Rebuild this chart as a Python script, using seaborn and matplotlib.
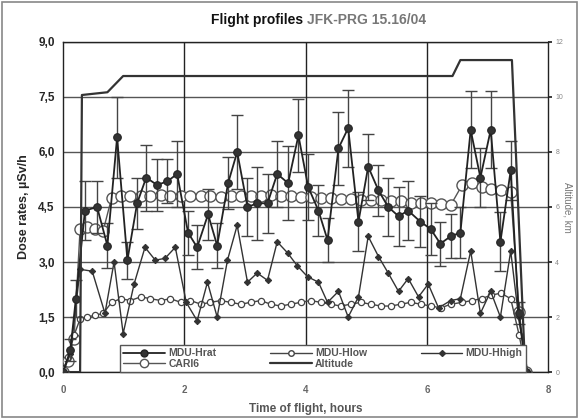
import matplotlib
matplotlib.use("Agg")
import matplotlib.pyplot as plt
import seaborn as sns
import numpy as np
import pandas as pd
from matplotlib.ticker import FuncFormatter, FixedLocator
from matplotlib.lines import Line2D
from matplotlib.patches import Rectangle

# ---------------- data ----------------
hrat_t = [0.00,0.12,0.21,0.36,0.56,0.73,0.89,1.06,1.22,1.37,
          1.55,1.72,1.88,2.06,2.21,2.39,2.54,2.72,2.87,3.04,
          3.20,3.37,3.53,3.71,3.88,4.04,4.21,4.36,4.54,4.70,
          4.87,5.03,5.20,5.36,5.53,5.69,5.89,6.06,6.22,6.39,
          6.55,6.72,6.88,7.05,7.21,7.38,7.51,7.64]
hrat_v = [0.0,0.6,2.0,4.4,4.5,3.45,6.4,3.05,4.6,5.3,
          5.1,5.2,5.4,3.8,3.4,4.3,3.45,5.15,6.0,4.5,
          4.6,4.6,5.4,5.15,6.45,5.05,4.4,3.6,6.1,6.65,
          4.1,5.6,4.95,4.5,4.25,4.4,4.1,3.9,3.5,3.7,
          3.8,6.6,5.3,6.6,3.55,5.5,1.6,0.0]
hrat_err = [0,0.3,0.5,0.8,0.7,0.6,1.1,0.5,0.7,0.9,
            0.7,0.6,0.9,0.6,0.6,0.7,0.6,0.7,1.0,0.8,
            1.0,0.8,0.9,1.0,1.0,0.9,0.7,0.6,1.0,1.05,
            0.8,0.9,0.7,0.8,0.8,0.8,0.7,0.7,0.6,0.6,
            0.7,1.05,0.8,1.05,0.8,0.8,0.3,0]

c_t = [0.0,0.08,0.18,0.28,0.40,0.53,0.66,0.80,0.95,1.11,
       1.28,1.44,1.61,1.77,1.94,2.10,2.27,2.43,2.60,2.76,
       2.93,3.09,3.26,3.42,3.59,3.75,3.92,4.08,4.25,4.41,
       4.58,4.74,4.91,5.07,5.24,5.40,5.57,5.73,5.90,6.06,
       6.23,6.39,6.58,6.74,6.90,7.06,7.22,7.38,7.52,7.64]
cari6_v = [0.0,0.3,0.9,3.9,3.95,3.9,3.85,4.75,4.8,4.8,
           4.8,4.8,4.82,4.8,4.8,4.8,4.8,4.8,4.78,4.8,
           4.8,4.8,4.8,4.82,4.8,4.8,4.78,4.78,4.75,4.75,
           4.72,4.72,4.7,4.7,4.68,4.65,4.65,4.62,4.6,4.6,
           4.58,4.55,5.1,5.15,5.05,5.0,4.95,4.9,1.65,0.0]
hlow_v = [0.0,0.4,1.0,1.45,1.5,1.55,1.6,1.9,2.0,1.95,
          2.05,2.0,1.95,2.0,1.9,1.95,1.85,1.9,1.95,1.9,
          1.85,1.9,1.95,1.85,1.8,1.85,1.9,1.95,1.9,1.85,
          1.8,1.85,1.9,1.85,1.8,1.8,1.85,1.9,1.85,1.8,
          1.75,1.85,1.9,1.95,2.0,2.1,2.15,2.0,1.0,0.0]

hhigh_t = [0.00,0.12,0.28,0.48,0.69,0.84,0.99,1.17,1.35,1.52,
           1.68,1.85,2.03,2.21,2.38,2.54,2.71,2.87,3.04,3.20,
           3.37,3.53,3.70,3.86,4.03,4.21,4.36,4.54,4.70,4.87,
           5.03,5.20,5.36,5.53,5.69,5.86,6.02,6.19,6.39,6.55,
           6.72,6.88,7.05,7.21,7.38,7.51,7.66]
hhigh_v = [0,0.5,2.8,2.75,1.6,3.0,1.05,2.4,3.4,3.05,
           3.1,3.4,1.9,1.4,2.45,1.5,3.05,4.0,2.45,2.7,
           2.5,3.55,3.25,2.9,2.6,2.45,1.9,2.2,1.5,2.05,
           3.7,3.15,2.7,2.2,2.55,2.05,2.4,1.75,1.95,2.0,
           3.3,1.6,2.2,1.5,3.3,1.5,0]

alt_t = [0.0,0.28,0.31,0.73,0.99,6.42,6.55,7.40,7.62]
alt_km = [0.0,0.0,10.07,10.17,10.76,10.76,11.34,11.34,0.0]

y_ticks = [0.0,1.5,3.0,4.5,6.0,7.5,9.0]
x_ticks = [0,2,4,6,8]
alt_ticks = [0,2,4,6,8,10,12]

# ---------------- style ----------------
sns.set_theme(style="white")
plt.rcParams['font.family'] = ['Liberation Sans', 'DejaVu Sans']

fig = plt.figure(figsize=(5.79, 4.19), dpi=100)
fig.patch.set_facecolor('white')
ax = fig.add_axes([0.109, 0.112, 0.838, 0.788])
ax.set_facecolor('white')

for y in y_ticks:
    ax.axhline(y, color='#555555', lw=1.0, zorder=0)
for x in [2, 4, 6]:
    ax.axvline(x, color='#222222', lw=1.0, zorder=0)

# CARI6
sns.lineplot(x=c_t, y=cari6_v, ax=ax, color='#555555', lw=1.0, marker='o',
             markersize=8, markerfacecolor='white', markeredgecolor='#555555',
             markeredgewidth=1.0, zorder=3)
# MDU-Hlow
sns.lineplot(x=c_t, y=hlow_v, ax=ax, color='#444444', lw=1.0, marker='o',
             markersize=4.5, markerfacecolor='white', markeredgecolor='#444444',
             markeredgewidth=0.9, zorder=3)
# MDU-Hhigh
sns.lineplot(x=hhigh_t, y=hhigh_v, ax=ax, color='#333333', lw=1.0, marker='D',
             markersize=3.2, markerfacecolor='#333333', markeredgecolor='#333333',
             zorder=4)
# MDU-Hrat
ax.errorbar(hrat_t, hrat_v, yerr=hrat_err, fmt='none', ecolor='#444444',
            elinewidth=1.0, capsize=4, capthick=1.0, zorder=4)
sns.lineplot(x=hrat_t, y=hrat_v, ax=ax, color='#222222', lw=1.3, marker='o',
             markersize=5.5, markerfacecolor='#333333', markeredgecolor='#222222',
             zorder=5)

ax.set_xlim(0, 8)
ax.set_ylim(0, 9)
ax.xaxis.set_major_locator(FixedLocator(x_ticks))
ax.yaxis.set_major_locator(FixedLocator(y_ticks))
ax.yaxis.set_major_formatter(FuncFormatter(lambda v, p: f"{v:.1f}".replace('.', ',')))
ax.tick_params(axis='y', labelsize=8.5, length=0, pad=6)
ax.tick_params(axis='x', labelsize=7, length=3, colors='#222222', labelcolor='#666666', pad=6)
for lab in ax.get_yticklabels():
    lab.set_fontweight('bold')
for lab in ax.get_xticklabels():
    lab.set_fontweight('bold')
for s in ax.spines.values():
    s.set_color('#222222')
    s.set_linewidth(1.0)

ax.set_ylabel('Dose rates, µSv/h', fontsize=9, fontweight='bold', labelpad=6)
ax.set_xlabel('Time of flight, hours', fontsize=8.5, fontweight='bold',
              color='#555555', labelpad=6)

# altitude axis
ax2 = ax.twinx()
sns.lineplot(x=alt_t, y=alt_km, ax=ax2, color='#333333', lw=1.6, zorder=2)
ax2.set_ylim(0, 12)
ax2.yaxis.set_major_locator(FixedLocator(alt_ticks))
ax2.tick_params(axis='y', labelsize=5, length=3, colors='#222222',
                labelcolor='#888888', pad=2)
ax2.set_ylabel('')
for s in ax2.spines.values():
    s.set_visible(False)
fig.text(0.981, 0.506, 'Altitude, km', fontsize=7, color='#777777',
         rotation=270, ha='center', va='center')

handles = [
    Line2D([], [], color='#222222', lw=1.3, marker='o', markersize=5,
           markerfacecolor='#333333'),
    Line2D([], [], color='#555555', lw=1.0, marker='o', markersize=6,
           markerfacecolor='white', markeredgecolor='#555555'),
    Line2D([], [], color='#444444', lw=1.0, marker='o', markersize=4,
           markerfacecolor='white', markeredgecolor='#444444'),
    Line2D([], [], color='#333333', lw=1.6),
    Line2D([], [], color='#333333', lw=1.0, marker='D', markersize=3,
           markerfacecolor='#333333'),
]
labels = ['MDU-Hrat', 'CARI6', 'MDU-Hlow', 'Altitude', 'MDU-Hhigh']
leg = ax2.legend(handles, labels, ncol=3, loc='lower left',
                 bbox_to_anchor=(0.118, 0.0, 0.835, 0.1), mode='expand',
                 borderaxespad=0.0, fontsize=7.5, handlelength=4,
                 frameon=True, fancybox=False, labelspacing=0.05,
                 borderpad=0.3, columnspacing=1.0, handletextpad=0.3)
leg.get_frame().set_edgecolor('#555555')
leg.get_frame().set_facecolor('white')
leg.get_frame().set_linewidth(1.0)
leg.get_frame().set_alpha(1.0)
leg.set_zorder(10)
for t in leg.get_texts():
    t.set_color('#555555')
    t.set_fontweight('bold')

fig.text(0.523, 0.953, 'Flight profiles', ha='right', va='center',
         fontsize=10, fontweight='bold', color='#111111')
fig.text(0.530, 0.953, 'JFK-PRG 15.16/04', ha='left', va='center',
         fontsize=10, fontweight='bold', color='#777777')

fig.patches.append(Rectangle((0.003, 0.005), 0.994, 0.99, transform=fig.transFigure,
                             fill=False, edgecolor='#888888', lw=1.2))

fig.savefig('out.png', dpi=100)
